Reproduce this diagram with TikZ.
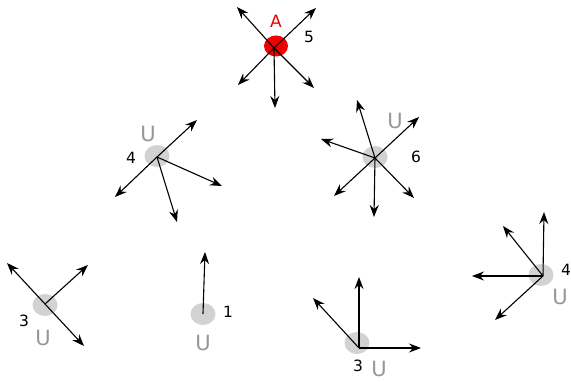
\documentclass[tikz,border=0pt]{standalone}
\usepackage{fontspec}
\setmainfont{DejaVu Sans}
\usetikzlibrary{shapes.geometric,arrows.meta}
\definecolor{blobgray}{RGB}{210,210,210}
\definecolor{ugray}{RGB}{150,150,150}
\definecolor{ared}{RGB}{240,0,0}
\tikzset{
  blob/.style={ellipse, fill=blobgray, draw=none, minimum width=25pt, minimum height=22pt, inner sep=0pt},
  redblob/.style={ellipse, fill=ared, draw=none, minimum width=24pt, minimum height=21pt, inner sep=0pt},
  vec/.style={line width=1.1pt, -{Stealth[length=12pt,width=9pt,inset=4pt]}},
  ulab/.style={text=ugray, font=\fontsize{21}{21}\selectfont, inner sep=0pt},
  nlab/.style={text=black, font=\fontsize{15.5}{15.5}\selectfont, inner sep=0pt},
  alab/.style={text=ared, font=\fontsize{17}{17}\selectfont, inner sep=0pt}
}
\begin{document}
\begin{tikzpicture}[x=1pt,y=-1pt]
\useasboundingbox (0,0) rectangle (571,382);
% ---- A ----
\node[redblob] (A) at (276,46) {};
\coordinate (Ao) at (274,48);
\node[alab] (Al) at (276,21) {A};
\node[nlab] (A5) at (309,37) {5};
\coordinate (A1) at (237,7);
\coordinate (A2) at (316,8);
\coordinate (A3) at (238,85);
\coordinate (A4) at (314,88);
\coordinate (A5t) at (275,108);
\foreach \t in {A1,A2,A3,A4,A5t} \draw[vec] (Ao) -- (\t);
% ---- U4 (middle left) ----
\node[blob] (B) at (157,156) {};
\coordinate (Bo) at (157,157);
\node[ulab] (Bu) at (148,134) {U};
\node[nlab] (B4) at (131,158) {4};
\coordinate (B1) at (197,120);
\coordinate (B2) at (115,197);
\coordinate (B3) at (222,186);
\coordinate (B4t) at (177,222);
\foreach \t in {B1,B2,B3,B4t} \draw[vec] (Bo) -- (\t);
% ---- U6 (middle right) ----
\node[blob] (C) at (375,157) {};
\coordinate (Co) at (375,158);
\node[ulab] (Cu) at (395,121) {U};
\node[nlab] (C6) at (416,157) {6};
\coordinate (C1) at (357,100);
\coordinate (C2) at (321,139);
\coordinate (C3) at (419,117);
\coordinate (C4) at (334,196);
\coordinate (C5) at (414,198);
\coordinate (C6t) at (374,217);
\foreach \t in {C1,C2,C3,C4,C5,C6t} \draw[vec] (Co) -- (\t);
% ---- U3 (bottom left) ----
\node[blob] (D) at (45,305) {};
\coordinate (Do) at (45,304);
\node[nlab] (D3) at (24,321) {3};
\node[ulab] (Du) at (43,338) {U};
\coordinate (D1) at (7,263);
\coordinate (D2) at (88,265);
\coordinate (D3t) at (84,346);
\foreach \t in {D1,D2,D3t} \draw[vec] (Do) -- (\t);
% ---- U1 ----
\node[blob] (E) at (203,314) {};
\coordinate (Eo) at (203,314);
\node[nlab] (E1) at (228,312) {1};
\node[ulab] (Eu) at (203,343) {U};
\coordinate (E1t) at (205,252);
\draw[vec] (Eo) -- (E1t);
% ---- U3 (bottom middle) ----
\node[blob] (F) at (357,343) {};
\coordinate (Fo) at (359,348);
\node[nlab] (F3) at (358,366) {3};
\node[ulab] (Fu) at (379,369) {U};
\coordinate (F1) at (359,277);
\coordinate (F2) at (313,298);
\coordinate (F3t) at (421,348);
\foreach \t in {F1,F2,F3t} \draw[vec] (Fo) -- (\t);
% ---- U4 (right) ----
\node[blob] (G) at (541,275) {};
\coordinate (Go) at (543,276);
\node[nlab] (G4) at (566,270) {4};
\node[ulab] (Gu) at (560,297) {U};
\coordinate (G1) at (544,212);
\coordinate (G2) at (503,226);
\coordinate (G3) at (472,276);
\coordinate (G4t) at (495,320);
\foreach \t in {G1,G2,G3,G4t} \draw[vec] (Go) -- (\t);
\end{tikzpicture}
\end{document}
